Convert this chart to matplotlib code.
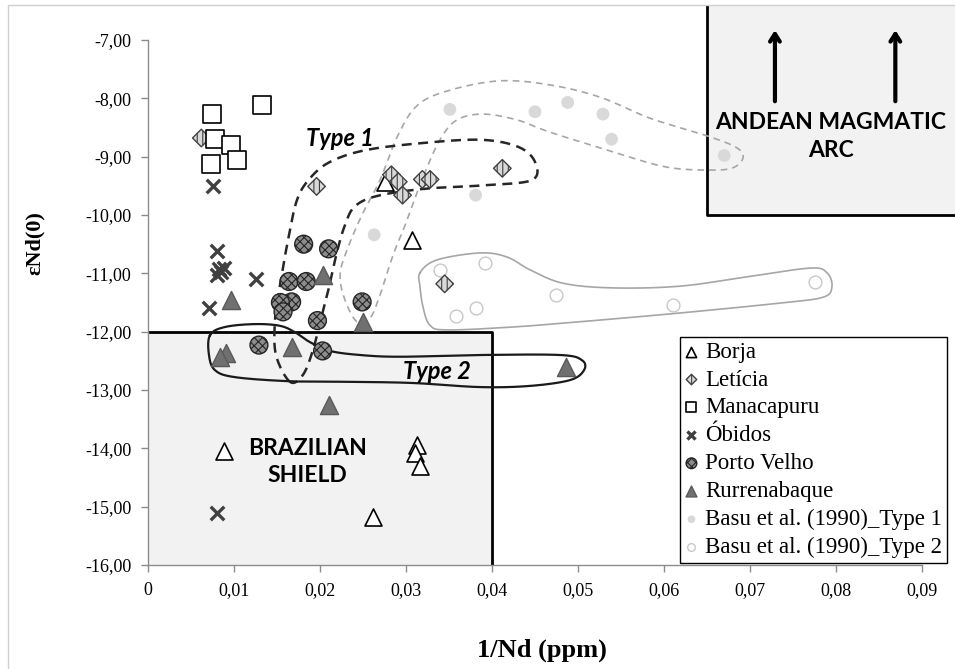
import numpy as np
import matplotlib
matplotlib.use("Agg")
import matplotlib.pyplot as plt
from matplotlib.patches import Rectangle
from matplotlib.ticker import FuncFormatter, MultipleLocator

# ---- sample data: 1/Nd (ppm) vs epsilon Nd(0) ----
borja_x = [0.0276, 0.0307, 0.0088, 0.0313, 0.0310, 0.0316, 0.0262]
borja_y = [-9.43, -10.42, -14.04, -13.94, -14.08, -14.30, -15.18]

leticia_x = [0.0062, 0.0196, 0.0283, 0.0291, 0.0296, 0.0319, 0.0328, 0.0412, 0.0345]
leticia_y = [-8.68, -9.51, -9.31, -9.43, -9.66, -9.39, -9.39, -9.20, -11.18]

manacapuru_x = [0.0074, 0.0133, 0.0078, 0.0096, 0.0104, 0.0073]
manacapuru_y = [-8.26, -8.11, -8.69, -8.80, -9.06, -9.13]

obidos_x = [0.0075, 0.0080, 0.0082, 0.0085, 0.0088, 0.0080, 0.0126, 0.0071, 0.0080]
obidos_y = [-9.51, -10.62, -10.93, -10.97, -10.90, -11.02, -11.09, -11.60, -15.10]

porto_velho_x = [0.0181, 0.0210, 0.0164, 0.0184, 0.0167, 0.0154, 0.0157, 0.0197, 0.0249, 0.0129, 0.0203]
porto_velho_y = [-10.50, -10.58, -11.14, -11.14, -11.49, -11.50, -11.66, -11.81, -11.49, -12.23, -12.33]

rurrenabaque_x = [0.0203, 0.0096, 0.0250, 0.0168, 0.0091, 0.0084, 0.0210, 0.0486]
rurrenabaque_y = [-11.03, -11.46, -11.83, -12.26, -12.37, -12.43, -13.26, -12.60]

basu_t1_x = [0.0351, 0.0450, 0.0488, 0.0529, 0.0539, 0.0670, 0.0381, 0.0263]
basu_t1_y = [-8.19, -8.23, -8.07, -8.27, -8.70, -8.98, -9.66, -10.34]

basu_t2_x = [0.0340, 0.0392, 0.0474, 0.0610, 0.0776, 0.0381, 0.0358]
basu_t2_y = [-10.94, -10.82, -11.37, -11.54, -11.14, -11.59, -11.73]

# ---- field outlines (data units), smoothed into closed curves ----
type1_env_x = [0.01651, 0.01488, 0.01477, 0.01535, 0.01628, 0.01733, 0.01884, 0.02116, 0.02523,
               0.03163, 0.03860, 0.04302, 0.04500, 0.04465, 0.03919, 0.03221, 0.02674, 0.02407,
               0.02291, 0.02198, 0.02116, 0.02023, 0.01919, 0.01802]
type1_env_y = [-12.86, -12.40, -11.80, -11.20, -10.43, -9.74, -9.37, -9.09, -8.89,
               -8.77, -8.71, -8.83, -9.09, -9.40, -9.49, -9.55, -9.67, -9.85,
               -10.17, -10.63, -11.17, -11.71, -12.31, -12.74]

type2_env_x = [0.00721, 0.00895, 0.01244, 0.01535, 0.01709, 0.01884, 0.02116, 0.02465, 0.02930,
               0.03860, 0.04791, 0.05047, 0.05070, 0.04907, 0.04442, 0.03860, 0.03081, 0.02349,
               0.01651, 0.01012, 0.00779, 0.00709]
type2_env_y = [-12.06, -11.92, -11.87, -11.90, -12.01, -12.18, -12.33, -12.40, -12.43,
               -12.40, -12.40, -12.49, -12.66, -12.83, -12.93, -12.95, -12.88, -12.86,
               -12.85, -12.78, -12.66, -12.40]

basu_t1_env_x = [0.02430, 0.02291, 0.02233, 0.02314, 0.02488, 0.02698, 0.02907, 0.03140, 0.03512,
                 0.04093, 0.04674, 0.05256, 0.05837, 0.06535, 0.06849, 0.06919, 0.06802, 0.06535,
                 0.06035, 0.05453, 0.04674, 0.04291, 0.03895, 0.03593, 0.03395, 0.03198, 0.03012,
                 0.02849, 0.02698, 0.02581]
basu_t1_env_y = [-11.83, -11.46, -11.03, -10.60, -10.00, -9.40, -8.63, -8.11, -7.86,
                 -7.70, -7.77, -7.98, -8.34, -8.66, -8.85, -9.02, -9.19, -9.23,
                 -9.18, -8.94, -8.58, -8.37, -8.27, -8.37, -8.71, -9.35, -10.09,
                 -10.69, -11.37, -11.77]

basu_t2_env_x = [0.03163, 0.03360, 0.03860, 0.04174, 0.04442, 0.04826, 0.05407, 0.06186, 0.06965,
                 0.07698, 0.07895, 0.07953, 0.07849, 0.07349, 0.06186, 0.05023, 0.04244, 0.03477,
                 0.03279, 0.03198, 0.03163]
basu_t2_env_y = [-10.99, -10.77, -10.65, -10.72, -10.94, -11.17, -11.25, -11.22, -11.06,
                 -10.91, -10.99, -11.23, -11.41, -11.51, -11.68, -11.83, -11.92, -11.97,
                 -11.89, -11.58, -11.23]


def closed_spline(xs, ys, n=24):
    """Periodic Catmull-Rom curve through the given outline points."""
    p = np.column_stack([xs, ys])
    k = len(p)
    t = np.linspace(0, 1, n, endpoint=False)[:, None]
    segs = []
    for i in range(k):
        p0, p1, p2, p3 = p[(i - 1) % k], p[i], p[(i + 1) % k], p[(i + 2) % k]
        segs.append(0.5 * (2 * p1 + (-p0 + p2) * t
                           + (2 * p0 - 5 * p1 + 4 * p2 - p3) * t ** 2
                           + (-p0 + 3 * p1 - 3 * p2 + p3) * t ** 3))
    c = np.vstack(segs + [p[:1]])
    return c[:, 0], c[:, 1]


serif = "Liberation Serif"
sans = "Lato"

fig = plt.figure(figsize=(9.55, 6.69), dpi=100)
fig.patches.append(Rectangle((8 / 955, -0.01), 1.0, 1 - 5 / 669 + 0.01, transform=fig.transFigure,
                             fill=False, edgecolor="#d0d0d0", lw=1.0))

ax = fig.add_axes([148 / 955, 104 / 669, 774 / 955, 525 / 669])
ax.set_xlim(0, 0.09)
ax.set_ylim(-16, -7)

for s in ["top", "right"]:
    ax.spines[s].set_visible(False)
for s in ["left", "bottom"]:
    ax.spines[s].set_color("#8c8c8c")
    ax.spines[s].set_linewidth(1.0)

ax.xaxis.set_major_locator(MultipleLocator(0.01))
ax.yaxis.set_major_locator(MultipleLocator(1.0))
ax.xaxis.set_major_formatter(FuncFormatter(lambda v, p: "0" if abs(v) < 1e-9 else f"{v:.2f}".replace(".", ",")))
ax.yaxis.set_major_formatter(FuncFormatter(lambda v, p: f"{v:.2f}".replace(".", ",")))
ax.tick_params(axis="both", direction="out", length=5, width=1.0, color="#8c8c8c",
               labelsize=13, pad=7)
for lab in ax.get_xticklabels() + ax.get_yticklabels():
    lab.set_fontfamily(serif)

# Brazilian Shield field
ax.add_patch(Rectangle((0, -16), 0.04, 4, facecolor="#f2f2f2", edgecolor="none", zorder=0.5))
ax.plot([0, 0.04, 0.04], [-12, -12, -16], color="black", lw=2.0, zorder=1, clip_on=False,
        solid_capstyle="butt")
ax.text(0.0185, -14.23, "BRAZILIAN\nSHIELD", fontfamily=sans, fontweight="bold", fontsize=16.5,
        ha="center", va="center", linespacing=1.35, zorder=6)

# Andean Magmatic Arc field
ax.add_patch(Rectangle((0.065, -10), 0.04, 3.6, facecolor="#f2f2f2", edgecolor="none",
                       zorder=0.5, clip_on=False))
ax.plot([0.065, 0.065, 0.1], [-6.42, -10, -10], color="black", lw=2.0, zorder=1, clip_on=False)
for xa in (0.0729, 0.0869):
    ax.annotate("", xy=(xa, -6.83), xytext=(xa, -8.05),
                arrowprops=dict(arrowstyle="->,head_length=0.55,head_width=0.35", lw=3,
                                color="black", shrinkA=0, shrinkB=0),
                annotation_clip=False, zorder=6)
ax.text(0.0794, -8.66, "ANDEAN MAGMATIC\nARC", fontfamily=sans, fontweight="bold", fontsize=16.5,
        ha="center", va="center", linespacing=1.4, zorder=6)

# group outlines
ex, ey = closed_spline(basu_t1_env_x, basu_t1_env_y)
ax.plot(ex, ey, color="#a6a6a6", lw=1.2, ls=(0, (4, 3)), zorder=2)
ex, ey = closed_spline(basu_t2_env_x, basu_t2_env_y)
ax.plot(ex, ey, color="#a6a6a6", lw=1.2, zorder=2)
ex, ey = closed_spline(type1_env_x, type1_env_y)
ax.plot(ex, ey, color="#262626", lw=1.8, ls=(0, (4, 2.6)), zorder=2)
ex, ey = closed_spline(type2_env_x, type2_env_y)
ax.plot(ex, ey, color="#1a1a1a", lw=1.6, zorder=2)

ax.text(0.0223, -8.68, "Type 1", fontfamily=sans, fontweight="bold", fontstyle="italic",
        fontsize=17, ha="center", va="center", zorder=6)
ax.text(0.0336, -12.69, "Type 2", fontfamily=sans, fontweight="bold", fontstyle="italic",
        fontsize=17, ha="center", va="center", zorder=6)

plt.rcParams["hatch.linewidth"] = 0.8

h_basu1 = ax.scatter(basu_t1_x, basu_t1_y, s=85, marker="o", facecolor="#d9d9d9",
                     edgecolor="none", zorder=3, label="Basu et al. (1990)_Type 1")
h_basu2 = ax.scatter(basu_t2_x, basu_t2_y, s=85, marker="o", facecolor="white",
                     edgecolor="#c8c8c8", linewidths=1.0, zorder=3, label="Basu et al. (1990)_Type 2")
h_borja = ax.scatter(borja_x, borja_y, s=150, marker="^", facecolor="white",
                     edgecolor="black", linewidths=1.2, zorder=4, label="Borja")
h_let = ax.scatter(leticia_x, leticia_y, s=80, marker="D", facecolor="#d9d9d9",
                   edgecolor="#404040", linewidths=1.0, hatch="|||", zorder=4, label="Letícia")
h_man = ax.scatter(manacapuru_x, manacapuru_y, s=150, marker="s", facecolor="white",
                   edgecolor="black", linewidths=1.2, zorder=4, label="Manacapuru")
h_obi = ax.scatter(obidos_x, obidos_y, s=95, marker="x", color="#404040",
                   linewidths=2.4, zorder=4, label="Óbidos")
h_pv = ax.scatter(porto_velho_x, porto_velho_y, s=165, marker="o", facecolor="#8c8c8c",
                  edgecolor="#262626", linewidths=1.0, hatch="xxxx", zorder=4, label="Porto Velho")
h_rur = ax.scatter(rurrenabaque_x, rurrenabaque_y, s=170, marker="^", facecolor="#707070",
                   edgecolor="#5a5a5a", linewidths=1.0, zorder=4, label="Rurrenabaque")

leg = ax.legend(handles=[h_borja, h_let, h_man, h_obi, h_pv, h_rur, h_basu1, h_basu2],
                loc="upper left", bbox_to_anchor=(680 / 955, 1 - 337 / 669),
                bbox_transform=fig.transFigure, prop={"family": serif, "size": 16.5},
                frameon=True, fancybox=False, edgecolor="black", framealpha=1,
                borderpad=0.2, borderaxespad=0, handlelength=0.6, handletextpad=0.3,
                labelspacing=0.3, markerscale=0.6, scatterpoints=1)
leg.get_frame().set_linewidth(1.0)
leg.set_zorder(10)

fig.text(35 / 955, 1 - 243 / 669, "εNd(0)", rotation=90, fontfamily=serif, fontweight="bold",
         fontsize=16, ha="center", va="center")
fig.text(542 / 955, 1 - 650 / 669, "1/Nd (ppm)", fontfamily=serif, fontweight="bold",
         fontsize=19, ha="center", va="center")

fig.savefig("out.png", dpi=100)
